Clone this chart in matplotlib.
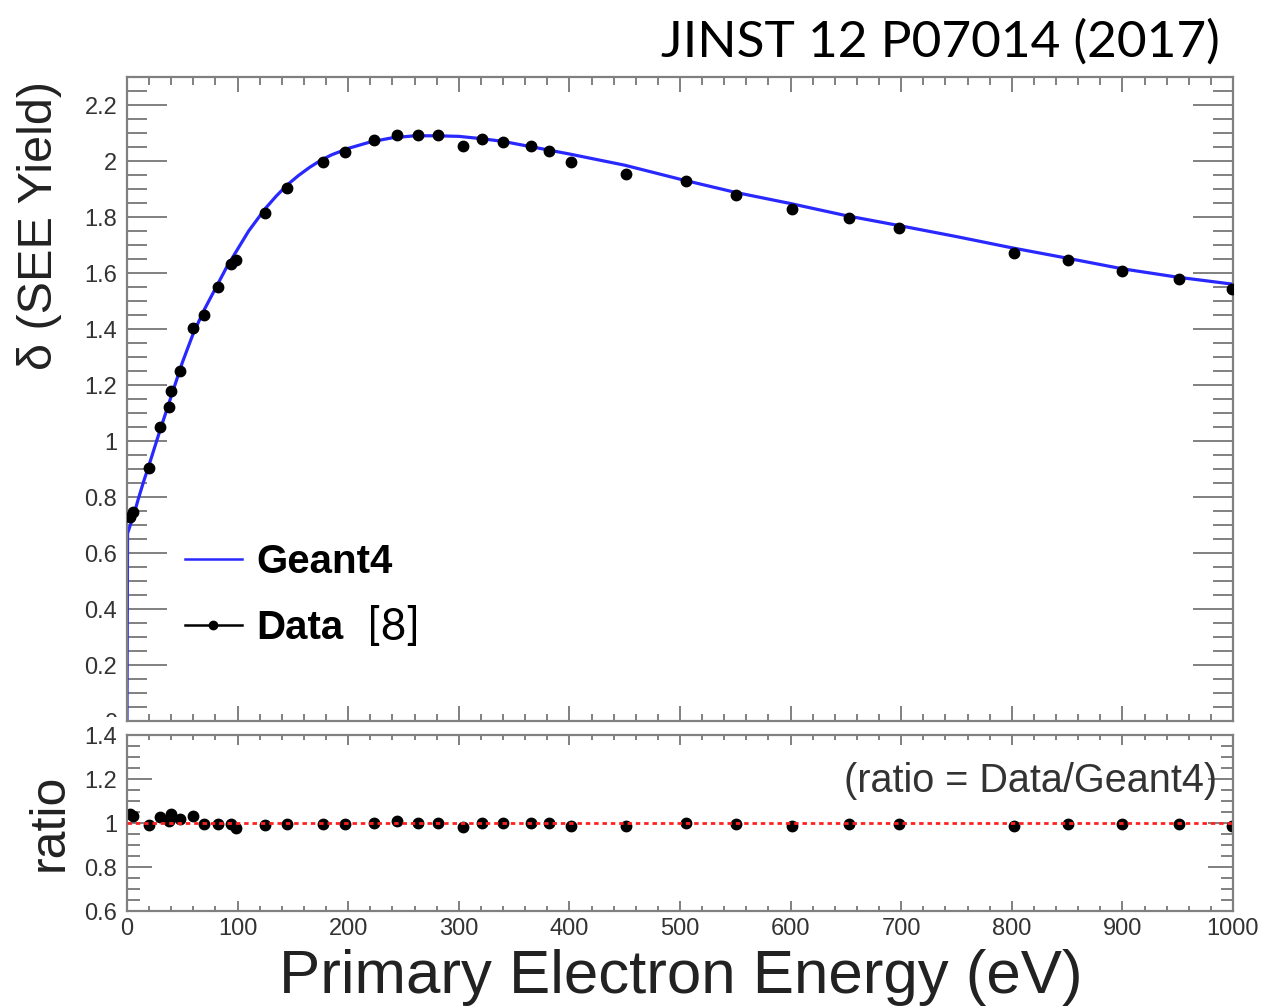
import matplotlib
matplotlib.use('Agg')
import matplotlib.pyplot as plt
from matplotlib.ticker import MultipleLocator, FuncFormatter
from matplotlib.patches import Rectangle
from matplotlib.lines import Line2D

# ---------------- data ----------------
energy_g4 = [0, 0.5, 3, 5, 10, 15, 20, 30, 40, 50, 60, 70, 80, 90, 100, 110, 125, 135, 145,
             155, 165, 175, 185, 200, 220, 240, 260, 280, 300, 320, 340, 360, 380, 400, 450,
             500, 550, 600, 650, 700, 750, 800, 850, 900, 950, 1000]
yield_g4 = [0.0, 0.67, 0.70, 0.72, 0.79, 0.855, 0.915, 1.04, 1.16, 1.28, 1.385, 1.47, 1.545,
            1.62, 1.685, 1.75, 1.83, 1.875, 1.915, 1.948, 1.977, 2.002, 2.022, 2.045, 2.068,
            2.083, 2.09, 2.09, 2.088, 2.08, 2.07, 2.055, 2.04, 2.025, 1.985, 1.935, 1.888,
            1.848, 1.805, 1.768, 1.73, 1.69, 1.653, 1.615, 1.585, 1.56]

energy_data = [3, 5, 20, 30, 38, 40, 48, 60, 70, 82, 94, 99, 125, 145, 177, 197, 223, 244, 263,
               281, 304, 321, 340, 365, 382, 401, 451, 505, 551, 601, 653, 698, 802, 851, 900,
               951, 999]
yield_data = [0.73, 0.745, 0.905, 1.05, 1.12, 1.18, 1.25, 1.405, 1.45, 1.55, 1.633, 1.646,
              1.814, 1.905, 1.998, 2.032, 2.075, 2.093, 2.093, 2.093, 2.054, 2.08, 2.068, 2.054,
              2.036, 1.996, 1.955, 1.929, 1.879, 1.827, 1.795, 1.76, 1.67, 1.645, 1.607, 1.577,
              1.542]
ratio_data = [1.04, 1.03, 0.99, 1.026, 1.008, 1.043, 1.018, 1.034, 0.997, 0.995, 0.997, 0.977,
              0.989, 0.994, 0.995, 0.995, 1.0, 1.008, 1.0, 1.0, 0.982, 1.0, 1.0, 1.0, 1.0,
              0.985, 0.985, 1.0, 0.995, 0.988, 0.995, 0.995, 0.988, 0.995, 0.995, 0.995, 0.988]

legend_labels = ['Geant4', 'Data']
x_label = 'Primary Electron Energy (eV)'
y_label = 'δ (SEE Yield)'
ratio_label = 'ratio'
ratio_note = '(ratio = Data/Geant4)'
title_text = 'JINST 12 P07014 (2017)'
ref_text = '[8]'

# ---------------- styling ----------------
plt.rcParams['font.family'] = ['Liberation Sans', 'DejaVu Sans']
W, H = 1266, 1007
GRAY = '#808080'
LBL = '#333333'
BLUE = '#2828ff'

def fx(px):
    return px / W

def fy(py):
    return 1 - py / H

fig = plt.figure(figsize=(W / 100, H / 100), dpi=100)

ax = fig.add_axes([fx(127), fy(721), fx(1233) - fx(127), fy(77) - fy(721)], zorder=0)
axr = fig.add_axes([fx(127), fy(911), fx(1233) - fx(127), fy(735) - fy(911)], zorder=2)
# lower pad covers the bottom of the upper pad's tick label area (as in the ROOT canvas)
cover = Rectangle((0, 0), fx(123), fy(717), transform=fig.transFigure, facecolor='white',
                  edgecolor='none', zorder=1)
fig.add_artist(cover)

fmt = FuncFormatter(lambda v, p: '%g' % round(v, 3))

# main panel
ax.plot(energy_g4, yield_g4, color=BLUE, lw=2.3, zorder=2)
ax.plot(energy_data, yield_data, 'o', color='black', ms=7.5, zorder=3)
ax.set_xlim(0, 1000)
ax.set_ylim(0, 2.3)
ax.xaxis.set_major_locator(MultipleLocator(100))
ax.xaxis.set_minor_locator(MultipleLocator(20))
ax.yaxis.set_major_locator(MultipleLocator(0.2))
ax.yaxis.set_minor_locator(MultipleLocator(0.05))
ax.yaxis.set_major_formatter(fmt)
ax.tick_params(which='both', direction='in', top=True, right=True, color=GRAY, width=1.4,
               labelcolor=LBL, labelsize=17)
ax.tick_params(axis='y', which='major', length=28.8, pad=7)
ax.tick_params(axis='y', which='minor', length=14.4)
ax.tick_params(axis='x', which='major', length=10.8, labelbottom=False)
ax.tick_params(axis='x', which='minor', length=5.4)

# ratio panel
axr.plot(energy_data, ratio_data, 'o', color='black', ms=7.5, zorder=2)
axr.axhline(1.0, color='#ff2020', lw=2.0, ls=(0, (1.6, 1.4)), zorder=3)
axr.set_xlim(0, 1000)
axr.set_ylim(0.6, 1.4)
axr.xaxis.set_major_locator(MultipleLocator(100))
axr.xaxis.set_minor_locator(MultipleLocator(20))
axr.yaxis.set_major_locator(MultipleLocator(0.2))
axr.yaxis.set_minor_locator(MultipleLocator(0.05))
axr.yaxis.set_major_formatter(fmt)
axr.xaxis.set_major_formatter(fmt)
axr.tick_params(which='both', direction='in', top=True, right=True, color=GRAY, width=1.4,
                labelcolor=LBL, labelsize=17)
axr.tick_params(axis='y', which='major', length=18, pad=7)
axr.tick_params(axis='y', which='minor', length=9)
axr.tick_params(axis='x', which='major', length=7, pad=5)
axr.tick_params(axis='x', which='minor', length=3.6)

for a in (ax, axr):
    for s in a.spines.values():
        s.set_color(GRAY)
        s.set_linewidth(1.6)

# legend
handles = [Line2D([], [], color=BLUE, lw=1.8),
           Line2D([], [], color='black', lw=1.8, marker='o', ms=6)]
ax.legend(handles, legend_labels, loc='upper left', bbox_to_anchor=(fx(185), fy(543)),
          bbox_transform=fig.transFigure, frameon=False,
          prop={'family': 'Liberation Sans', 'weight': 'bold', 'size': 29},
          handlelength=1.41, handletextpad=0.37, labelspacing=0.70, borderpad=0,
          borderaxespad=0)

# texts
fig.text(fx(367), fy(628), ref_text, family=['Lato', 'DejaVu Sans'], size=32,
         ha='left', va='center', color='black')
fig.text(fx(1220), fy(57), title_text, family=['Lato', 'DejaVu Sans'], size=37,
         ha='right', va='baseline', color='black')
fig.text(fx(1217), fy(781), ratio_note, size=28.5, ha='right', va='center', color=LBL)
fig.text(fx(40), fy(225), y_label, rotation=90, size=35, ha='center', va='center',
         color='#222222')
fig.text(fx(50), fy(822), ratio_label, rotation=90, size=36, ha='center', va='center',
         color='#222222')
fig.text(fx(681), fy(993), x_label, size=44.5, ha='center', va='baseline', color='#222222')

fig.savefig('out.png', dpi=100)
